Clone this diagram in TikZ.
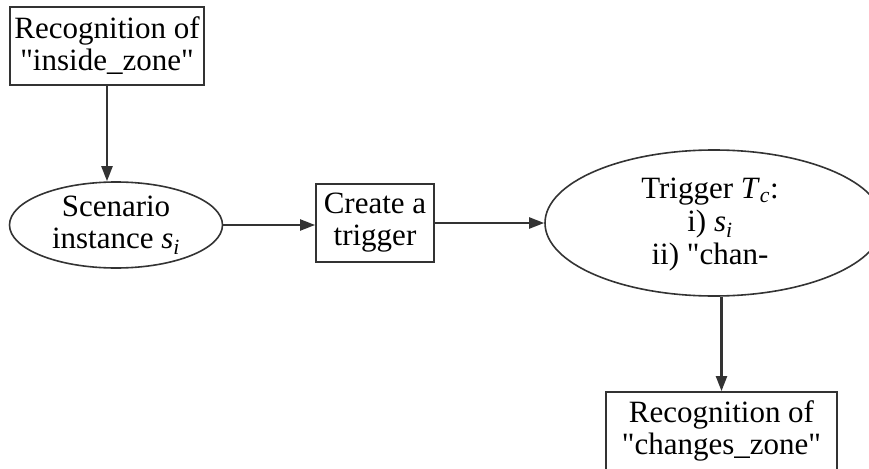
\documentclass[tikz,border=0pt]{standalone}
\usepackage{fontspec}
\setmainfont{Liberation Serif}[Ligatures=TeXOff]
\usetikzlibrary{shapes.geometric,arrows.meta}

\begin{document}
\begin{tikzpicture}[%
      x=1pt, y=-1pt,
      every node/.style={font=\fontsize{31}{32}\selectfont, align=center, inner sep=0pt},
      stepbox/.style={draw=black!80, line width=1.8pt, rectangle},
      stateoval/.style={draw=black!80, line width=1.6pt, ellipse},
      conn/.style={draw=black!80, line width=2.2pt, -{Triangle[length=15pt,width=11pt]}},
      ]
      \clip (0,0) rectangle (869,468);

      \node [stepbox, minimum width=194pt, minimum height=78pt] (insidezone) at (107,46)
            {Recognition of\\"inside\_zone"};
      \node [stateoval, minimum width=213pt, minimum height=86pt] (scenario) at (116,225)
            {Scenario\\instance \textit{s}\textsubscript{\textit{i}}};
      \node [stepbox, minimum width=118pt, minimum height=78pt] (create) at (375,223)
            {Create a\\trigger};
      \node [stateoval, minimum width=338pt, minimum height=146pt] (trigger) at (714,223)
            {};
      \node [font=\fontsize{31}{33}\selectfont] (triggertext) at (710,225)
            {Trigger \textit{T}\textsubscript{\textit{c}}:\\i) \textit{s}\textsubscript{\textit{i}}\\ii) "chan-};
      \node [stepbox, minimum width=231pt, minimum height=78pt] (changeszone) at (721.5,431)
            {Recognition of\\"changes\_zone"};

      \draw [conn] (insidezone.south) -- (insidezone.south |- scenario.north);
      \draw [conn] (scenario.east) -- (scenario.east -| create.west);
      \draw [conn] (create.east) -- (trigger.west);
      \draw [conn] (changeszone.north |- trigger.south) -- (changeszone.north);
      \end{tikzpicture}
\end{document}
